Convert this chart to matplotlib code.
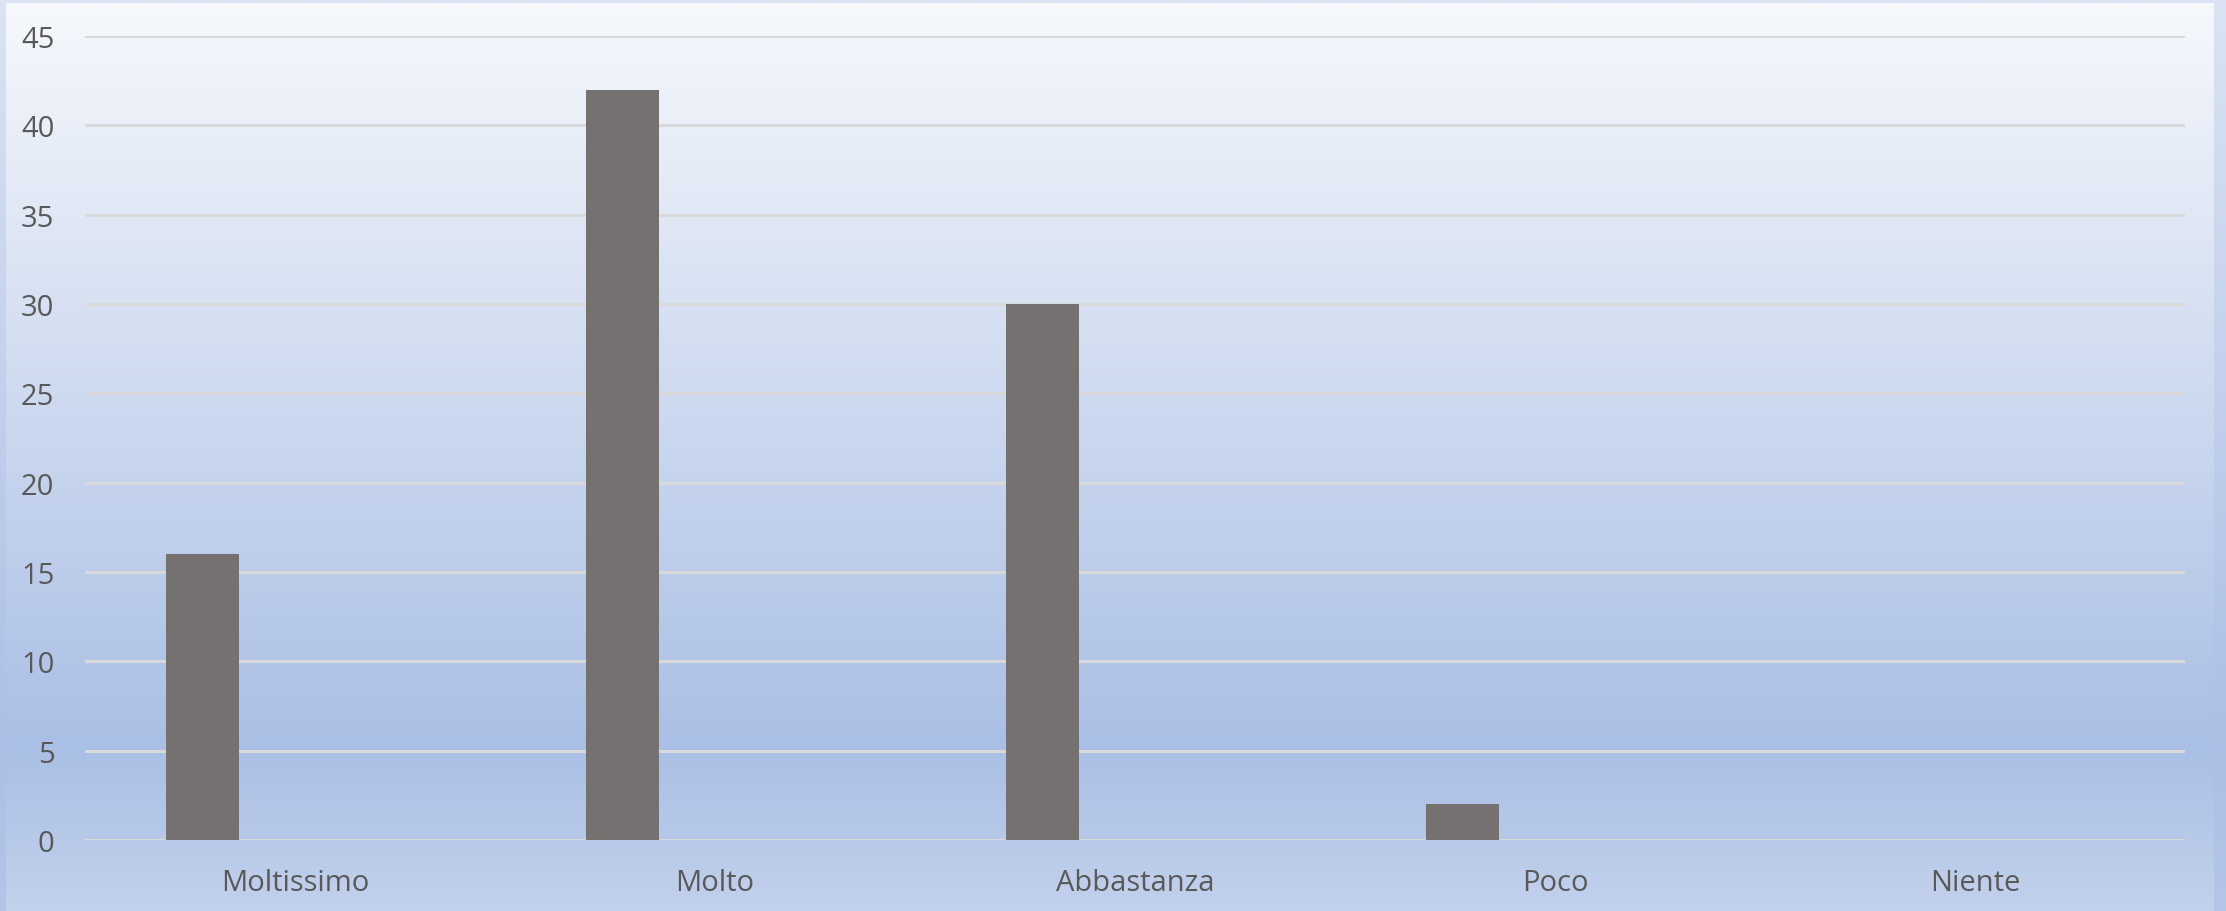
import numpy as np
import matplotlib.pyplot as plt
from matplotlib.colors import LinearSegmentedColormap

categories = ['Moltissimo', 'Molto', 'Abbastanza', 'Poco', 'Niente']
values = [16, 42, 30, 2, 0]
yticks = [0, 5, 10, 15, 20, 25, 30, 35, 40, 45]

W, H, DPI = 2226, 912, 100
fig = plt.figure(figsize=(W / DPI, H / DPI), dpi=DPI)

# background: outer frame + inner gradient panel
outer_cmap = LinearSegmentedColormap.from_list(
    'outer', [(0, '#dbe3f4'), (0.82, '#abbfe5'), (1, '#b3c6e8')])
inner_cmap = LinearSegmentedColormap.from_list(
    'inner', [(0, '#f6f8fc'), (0.82, '#aabfe5'), (1, '#c2d1ec')])
grad = np.linspace(0, 1, 512).reshape(-1, 1)

bg = fig.add_axes([0, 0, 1, 1], zorder=-2)
bg.imshow(grad, cmap=outer_cmap, aspect='auto', extent=[0, W, H, 0])
y0 = 4
x0, x1 = 6, 2214
bg.imshow(grad, cmap=inner_cmap, aspect='auto',
          extent=[x0, x1, H, y0])
bg.set_xlim(0, W)
bg.set_ylim(H, 0)
bg.axis('off')

ax = fig.add_axes([85 / W, 1 - 841 / H, (2185 - 85) / W, (841 - 37) / H])
ax.patch.set_alpha(0)

x = np.arange(len(categories))
ax.bar(x - 0.22, values, width=0.174, color='#757171', zorder=3)

ax.set_xlim(-0.5, len(categories) - 0.5)
ax.set_ylim(0, 45)
ax.set_yticks(yticks)
ax.set_xticks(x)
ax.set_xticklabels(categories)
ax.grid(axis='y', color='#d9d9d9', linewidth=2.2, zorder=0)
ax.set_axisbelow(True)
for s in ax.spines.values():
    s.set_visible(False)
ax.tick_params(axis='both', length=0, colors='#595959', labelsize=21)
ax.tick_params(axis='y', pad=22)
ax.tick_params(axis='x', pad=20)
for lab in ax.get_xticklabels() + ax.get_yticklabels():
    lab.set_fontfamily('Open Sans')

fig.savefig('out.png', dpi=DPI)
